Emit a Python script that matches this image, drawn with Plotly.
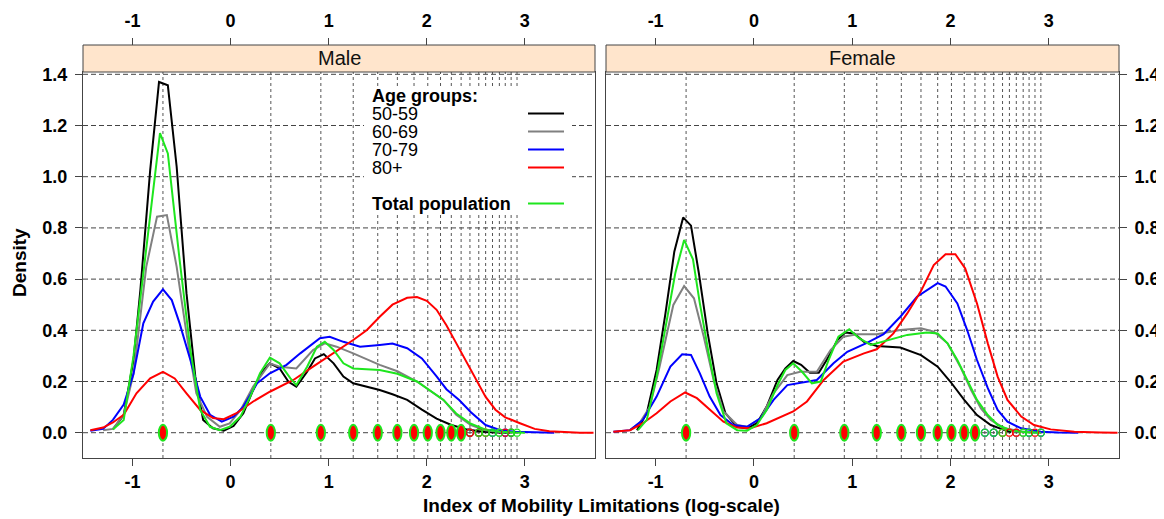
import plotly.graph_objects as go

# page is offset by the default 8px body margin, so the figure is sized to fit
OFF = 8
FW, FH = 1156, 511

# ---------------- data ----------------
age_groups = ["50-59", "60-69", "70-79", "80+"]
total_label = "Total population"
panels = ["Male", "Female"]
x_ticks = [-1, 0, 1, 2, 3]
y_ticks = [0.0, 0.2, 0.4, 0.6, 0.8, 1.0, 1.2, 1.4]
y_ticktext = ["0.0", "0.2", "0.4", "0.6", "0.8", "1.0", "1.2", "1.4"]

# observed (log-scale) index values: reference lines + rug
rug_values = [-0.69, 0.41, 0.92, 1.25, 1.50, 1.70, 1.87, 2.01, 2.14, 2.25,
              2.35, 2.44, 2.53, 2.60, 2.67, 2.74, 2.80, 2.86, 2.92]
male_common = [-0.69, 0.41, 0.92, 1.25, 1.50, 1.70, 1.87, 2.01, 2.14, 2.25, 2.35]
female_common = [-0.69, 0.41, 0.92, 1.25, 1.50, 1.70, 1.87, 2.01, 2.14, 2.25]
male_tail = {
    "50-59": [2.44, 2.53, 2.86],
    "60-69": [2.44, 2.74],
    "70-79": [2.67, 2.80],
    "80+": [2.44, 2.53, 2.60, 2.80],
    "Total population": [2.53, 2.60, 2.67, 2.74, 2.86, 2.92],
}
female_tail = {
    "50-59": [],
    "60-69": [2.44, 2.67, 2.74],
    "70-79": [2.35, 2.44, 2.80, 2.92],
    "80+": [2.53, 2.60, 2.67, 2.86],
    "Total population": [2.35, 2.44, 2.53, 2.74, 2.80, 2.92],
}

# density curves, Male
m5059_x = [-1.20,-1.09,-0.99,-0.92,-0.82,-0.73,-0.64,-0.55,-0.45,-0.36,-0.28,-0.18,-0.07,0.03,0.13,0.23,0.32,0.40,0.50,0.59,0.67,0.78,0.86,0.95,1.05,1.15,1.25,1.39,1.52,1.65,1.80,1.95,2.10,2.25,2.40,2.55,2.70,2.85]
m5059_y = [0.013,0.069,0.284,0.557,1.026,1.370,1.357,1.039,0.545,0.219,0.050,0.017,0.008,0.026,0.076,0.167,0.238,0.271,0.251,0.199,0.180,0.238,0.290,0.307,0.271,0.219,0.193,0.180,0.167,0.150,0.128,0.090,0.055,0.030,0.014,0.005,0.001,0.000]
m6069_x = [-1.30,-1.20,-1.09,-0.99,-0.86,-0.75,-0.65,-0.55,-0.45,-0.35,-0.24,-0.11,-0.01,0.10,0.23,0.40,0.50,0.67,0.84,0.96,1.08,1.25,1.52,1.70,1.90,2.05,2.17,2.30,2.45,2.60,2.75,2.90]
m6069_y = [0.010,0.015,0.070,0.230,0.648,0.844,0.850,0.648,0.388,0.154,0.062,0.023,0.036,0.088,0.180,0.271,0.258,0.251,0.323,0.349,0.336,0.310,0.265,0.240,0.200,0.160,0.128,0.070,0.030,0.010,0.003,0.000]
m7079_x = [-1.43,-1.30,-1.20,-1.09,-0.99,-0.89,-0.79,-0.69,-0.60,-0.52,-0.41,-0.31,-0.21,-0.09,0.03,0.13,0.27,0.40,0.57,0.71,0.91,1.01,1.15,1.32,1.52,1.65,1.80,1.95,2.10,2.20,2.33,2.45,2.60,2.75,2.90,3.10,3.30]
m7079_y = [0.008,0.015,0.050,0.110,0.230,0.427,0.512,0.560,0.518,0.427,0.284,0.141,0.070,0.043,0.063,0.102,0.193,0.232,0.265,0.310,0.369,0.375,0.355,0.336,0.343,0.348,0.330,0.290,0.220,0.170,0.128,0.080,0.030,0.010,0.004,0.001,0.000]
m80_x = [-1.43,-1.30,-1.20,-1.09,-0.96,-0.82,-0.69,-0.57,-0.45,-0.31,-0.18,-0.07,0.06,0.23,0.40,0.64,0.84,1.05,1.25,1.39,1.52,1.65,1.80,1.90,2.00,2.10,2.20,2.30,2.40,2.50,2.60,2.70,2.80,2.95,3.10,3.25,3.40,3.56,3.70]
m80_y = [0.010,0.020,0.040,0.070,0.154,0.212,0.238,0.212,0.154,0.089,0.057,0.053,0.076,0.122,0.160,0.206,0.258,0.310,0.362,0.401,0.453,0.500,0.527,0.530,0.515,0.480,0.420,0.350,0.280,0.210,0.140,0.090,0.060,0.037,0.015,0.006,0.002,0.000,0.000]
mtot_x = [-1.20,-1.09,-0.99,-0.82,-0.72,-0.64,-0.52,-0.41,-0.31,-0.21,-0.11,-0.01,0.10,0.20,0.30,0.40,0.50,0.61,0.67,0.78,0.88,0.96,1.05,1.15,1.25,1.52,1.70,1.90,2.05,2.17,2.30,2.45,2.60,2.75,2.90,3.00]
mtot_y = [0.013,0.050,0.300,0.857,1.170,1.091,0.675,0.323,0.089,0.023,0.010,0.023,0.063,0.141,0.232,0.293,0.271,0.212,0.186,0.258,0.336,0.355,0.323,0.271,0.251,0.245,0.230,0.200,0.160,0.128,0.075,0.035,0.012,0.004,0.001,0.000]

# density curves, Female
f5059_x = [-1.19,-1.09,-0.99,-0.90,-0.81,-0.72,-0.64,-0.56,-0.47,-0.38,-0.29,-0.17,-0.07,0.03,0.13,0.24,0.32,0.40,0.48,0.57,0.66,0.74,0.85,0.93,1.02,1.12,1.25,1.49,1.70,1.87,2.00,2.14,2.27,2.41,2.55,2.62]
f5059_y = [0.010,0.076,0.245,0.466,0.707,0.841,0.809,0.623,0.388,0.193,0.076,0.023,0.017,0.037,0.102,0.206,0.251,0.280,0.265,0.234,0.234,0.284,0.362,0.391,0.388,0.355,0.339,0.333,0.303,0.258,0.199,0.128,0.069,0.030,0.010,0.003]
f6069_x = [-1.26,-1.16,-1.06,-0.96,-0.82,-0.71,-0.61,-0.51,-0.41,-0.31,-0.17,-0.07,0.07,0.20,0.34,0.47,0.64,0.78,0.91,1.05,1.25,1.49,1.70,1.83,1.97,2.10,2.21,2.31,2.41,2.55,2.72,2.90]
f6069_y = [0.010,0.040,0.100,0.258,0.499,0.573,0.525,0.375,0.206,0.083,0.030,0.023,0.057,0.154,0.225,0.238,0.238,0.323,0.375,0.385,0.385,0.401,0.408,0.395,0.349,0.258,0.167,0.095,0.050,0.017,0.005,0.000]
f7079_x = [-1.43,-1.26,-1.13,-0.99,-0.85,-0.73,-0.64,-0.55,-0.45,-0.34,-0.21,-0.07,0.07,0.20,0.34,0.47,0.64,0.81,0.95,1.15,1.32,1.49,1.66,1.87,1.95,2.07,2.17,2.27,2.38,2.48,2.58,2.72,2.92,3.10,3.30]
f7079_y = [0.004,0.010,0.050,0.141,0.258,0.306,0.304,0.232,0.141,0.069,0.030,0.023,0.057,0.128,0.186,0.195,0.206,0.271,0.316,0.351,0.385,0.453,0.531,0.584,0.571,0.505,0.401,0.284,0.174,0.089,0.043,0.017,0.004,0.001,0.000]
f80_x = [-1.43,-1.26,-1.13,-0.99,-0.85,-0.70,-0.58,-0.45,-0.31,-0.17,-0.04,0.13,0.27,0.40,0.54,0.71,0.91,1.12,1.25,1.42,1.56,1.70,1.83,1.95,2.05,2.15,2.27,2.38,2.48,2.58,2.72,2.85,3.02,3.26,3.53,3.70]
f80_y = [0.004,0.010,0.037,0.076,0.122,0.157,0.135,0.089,0.043,0.020,0.017,0.037,0.060,0.083,0.122,0.206,0.278,0.310,0.326,0.388,0.466,0.553,0.655,0.697,0.697,0.642,0.505,0.349,0.219,0.128,0.063,0.030,0.013,0.004,0.001,0.000]
ftot_x = [-1.18,-1.09,-0.99,-0.89,-0.80,-0.71,-0.62,-0.55,-0.46,-0.38,-0.28,-0.17,-0.07,0.03,0.13,0.24,0.32,0.40,0.49,0.59,0.68,0.76,0.86,0.97,1.07,1.19,1.36,1.56,1.76,1.87,1.97,2.07,2.17,2.27,2.38,2.48,2.61,2.75,2.92]
ftot_y = [0.010,0.050,0.219,0.440,0.623,0.753,0.677,0.505,0.310,0.154,0.037,0.010,0.008,0.030,0.089,0.186,0.245,0.271,0.238,0.193,0.200,0.284,0.375,0.404,0.369,0.343,0.362,0.382,0.391,0.388,0.349,0.284,0.206,0.128,0.069,0.030,0.010,0.003,0.000]

curves = {
    "Male": {"50-59": (m5059_x, m5059_y), "60-69": (m6069_x, m6069_y),
             "70-79": (m7079_x, m7079_y), "80+": (m80_x, m80_y),
             "Total population": (mtot_x, mtot_y)},
    "Female": {"50-59": (f5059_x, f5059_y), "60-69": (f6069_x, f6069_y),
               "70-79": (f7079_x, f7079_y), "80+": (f80_x, f80_y),
               "Total population": (ftot_x, ftot_y)},
}
commons = {"Male": male_common, "Female": female_common}
tails = {"Male": male_tail, "Female": female_tail}

# ---------------- style ----------------
colors = {"50-59": "#000000", "60-69": "#808080", "70-79": "#0000FF",
          "80+": "#FF0000", "Total population": "#1EE61E"}
FONT = "Liberation Sans, Arial, sans-serif"
FRAME = "#444444"


def px_x(p):
    return (p - OFF) / FW


def px_y(p):
    return 1 - (p - OFF) / FH


x_dom = {"Male": [px_x(83), px_x(595)], "Female": [px_x(606), px_x(1119)]}
y_dom = [px_y(458), px_y(72)]
strip_y = [px_y(72), px_y(45)]
x_range = [-1.505, 3.715]
y_range = [-0.0988, 1.409]

fig = go.Figure()
shapes = []
annotations = []
axis_ids = {"Male": ("x", "y"), "Female": ("x2", "y2")}

for panel in panels:
    xa, ya = axis_ids[panel]
    # horizontal dashed reference lines
    for t in y_ticks:
        shapes.append(dict(type="line", xref=f"{xa} domain", yref=ya, x0=0, x1=1, y0=t, y1=t,
                           line=dict(color="#444444", width=1, dash="5px,3px"), layer="below"))
    # vertical dotted reference lines
    for v in rug_values:
        shapes.append(dict(type="line", xref=xa, yref=f"{ya} domain", x0=v, x1=v, y0=0, y1=1,
                           line=dict(color="#555555", width=1, dash="dot"), layer="below"))
    # density curves
    for g in age_groups + [total_label]:
        cx, cy = curves[panel][g]
        fig.add_trace(go.Scatter(x=cx, y=cy, mode="lines", xaxis=xa, yaxis=ya,
                                 line=dict(color=colors[g], width=2), showlegend=False,
                                 hoverinfo="skip"))
    # tail rug points (open circles)
    for g in age_groups + [total_label]:
        tv = tails[panel][g]
        if tv:
            fig.add_trace(go.Scatter(x=tv, y=[0.0] * len(tv), mode="markers", xaxis=xa, yaxis=ya,
                                     marker=dict(symbol="circle-open", size=7,
                                                 color=colors[g],
                                                 line=dict(color=colors[g], width=1.3)),
                                     showlegend=False, hoverinfo="skip"))
    # common values: overplotted rug (red core, green halo)
    for v in commons[panel]:
        shapes.append(dict(type="circle", xref=xa, yref=ya, x0=v - 0.042, x1=v + 0.042,
                           y0=-0.031, y1=0.031, fillcolor="#FF0000",
                           line=dict(color="#1EE61E", width=2), layer="above"))
    # strip
    shapes.append(dict(type="rect", xref=f"{xa} domain", yref="paper", x0=0, x1=1,
                       y0=strip_y[0], y1=strip_y[1], fillcolor="#FFE5CC",
                       line=dict(color=FRAME, width=1), layer="above"))
    annotations.append(dict(text=panel, xref=f"{xa} domain", yref="paper", x=0.5,
                            y=(strip_y[0] + strip_y[1]) / 2, showarrow=False,
                            font=dict(family=FONT, size=20, color="#111111"),
                            xanchor="center", yanchor="middle"))

# dummy traces for top axes
fig.add_trace(go.Scatter(x=[None], y=[None], xaxis="x3", yaxis="y", showlegend=False, hoverinfo="skip"))
fig.add_trace(go.Scatter(x=[None], y=[None], xaxis="x4", yaxis="y2", showlegend=False, hoverinfo="skip"))

# legend (inside Male panel), white box hides the reference lines
shapes.append(dict(type="rect", xref="paper", yref="paper", x0=px_x(364), x1=px_x(572),
                   y0=px_y(215), y1=px_y(86), fillcolor="white", line=dict(width=0),
                   layer="below"))
LEG = 18
annotations.append(dict(text="<b>Age groups:</b>", xref="paper", yref="paper", x=px_x(370),
                        y=px_y(96), xanchor="left", yanchor="middle", showarrow=False,
                        font=dict(family=FONT, size=LEG, color="black")))
leg_rows = [113.5, 131.5, 149.5, 167.5]
for g, row in zip(age_groups, leg_rows):
    annotations.append(dict(text=g, xref="paper", yref="paper", x=px_x(370), y=px_y(row),
                            xanchor="left", yanchor="middle", showarrow=False,
                            font=dict(family=FONT, size=LEG, color="black")))
    shapes.append(dict(type="line", xref="paper", yref="paper", x0=px_x(528), x1=px_x(564),
                       y0=px_y(row), y1=px_y(row), line=dict(color=colors[g], width=2)))
annotations.append(dict(text="<b>Total population</b>", xref="paper", yref="paper", x=px_x(370),
                        y=px_y(204), xanchor="left", yanchor="middle", showarrow=False,
                        font=dict(family=FONT, size=LEG, color="black")))
shapes.append(dict(type="line", xref="paper", yref="paper", x0=px_x(528), x1=px_x(564),
                   y0=px_y(203.5), y1=px_y(203.5), line=dict(color=colors[total_label], width=2)))

# axis titles
annotations.append(dict(text="<b>Index of Mobility Limitations (log-scale)</b>", xref="paper",
                        yref="paper", x=px_x(601), y=px_y(505), xanchor="center", yanchor="middle",
                        showarrow=False, font=dict(family=FONT, size=19, color="black")))
annotations.append(dict(text="<b>Density</b>", xref="paper", yref="paper", x=px_x(19),
                        y=px_y(263), xanchor="center", yanchor="middle", textangle=-90,
                        showarrow=False, font=dict(family=FONT, size=19, color="black")))

tickfont = dict(family=FONT, size=18, color="black", weight="bold")
xcommon = dict(range=x_range, tickvals=x_ticks, ticktext=[str(t) for t in x_ticks],
               ticks="outside", ticklen=7, tickcolor=FRAME, tickfont=tickfont,
               showgrid=False, zeroline=False, automargin=False)
ycommon = dict(range=y_range, tickvals=y_ticks, ticktext=y_ticktext, ticks="outside",
               ticklen=7, tickcolor=FRAME, tickfont=tickfont, showgrid=False,
               zeroline=False, showline=True, mirror=True, linecolor=FRAME, linewidth=1,
               ticklabelstandoff=4, automargin=False)

fig.update_layout(
    width=FW, height=FH, margin=dict(l=0, r=0, t=0, b=0, autoexpand=False),
    paper_bgcolor="white", plot_bgcolor="white", showlegend=False,
    xaxis=dict(domain=x_dom["Male"], anchor="y", showline=True, mirror=True,
               linecolor=FRAME, linewidth=1, ticklabelstandoff=0, **xcommon),
    yaxis=dict(domain=y_dom, anchor="x", side="left", **ycommon),
    xaxis2=dict(domain=x_dom["Female"], anchor="y2", showline=True, mirror=True,
                linecolor=FRAME, linewidth=1, ticklabelstandoff=0, **xcommon),
    yaxis2=dict(domain=y_dom, anchor="x2", side="right", **ycommon),
    xaxis3=dict(overlaying="x", side="top", anchor="free", position=strip_y[1],
                showline=False, ticklabelstandoff=4, **xcommon),
    xaxis4=dict(overlaying="x2", side="top", anchor="free", position=strip_y[1],
                showline=False, ticklabelstandoff=4, **xcommon),
    shapes=shapes, annotations=annotations,
)

fig.write_html("out.html")
